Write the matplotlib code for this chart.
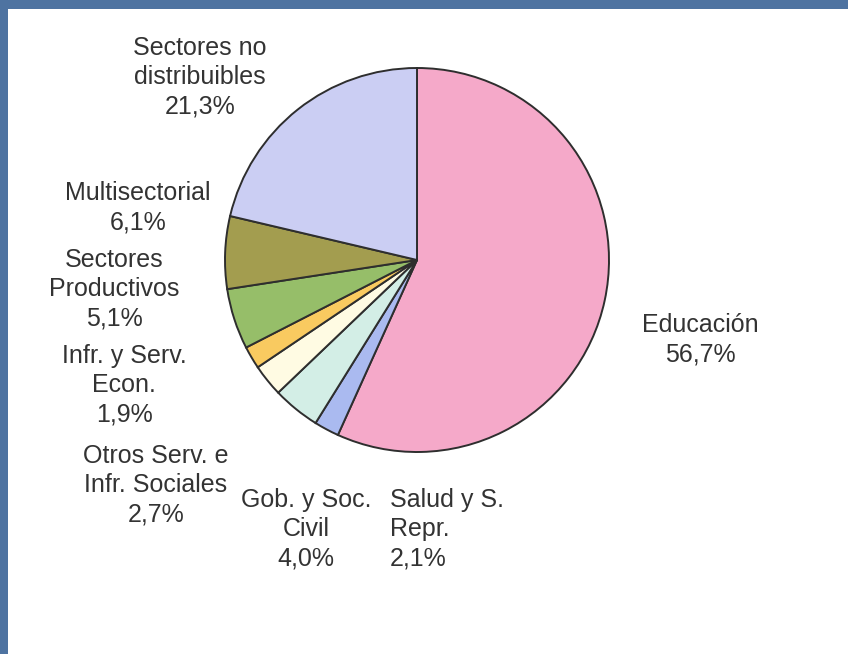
import matplotlib.pyplot as plt
from matplotlib.patches import Rectangle

plt.rcParams['font.family'] = ['Liberation Sans', 'DejaVu Sans']

# slices, clockwise from 12 o'clock
sectors = ['Educación', 'Salud y S.\nRepr.', 'Gob. y Soc.\nCivil',
           'Otros Serv. e\nInfr. Sociales', 'Infr. y Serv.\nEcon.',
           'Sectores\nProductivos', 'Multisectorial',
           'Sectores no\ndistribuibles']
shares = [56.7, 2.1, 4.0, 2.7, 1.9, 5.1, 6.1, 21.3]
colors = ['#F5A9C9', '#AABAF0', '#D3EEE6', '#FFFBE3', '#F9CA60',
          '#96BE69', '#A39D4F', '#CBCEF3']

# label anchor (px from top-left) and alignment
label_pos = [(700, 340, 'center'), (390, 529, 'left'), (306, 529, 'center'),
             (156, 485, 'center'), (124, 385, 'center'), (114, 289, 'center'),
             (138, 208, 'center'), (200, 77, 'center')]

W, H = 848, 654
fig = plt.figure(figsize=(W / 100, H / 100), dpi=100)
fig.patch.set_facecolor('#4E73A1')

ax = fig.add_axes([0, 0, 1, 1])
ax.add_patch(Rectangle((8, 0), W - 8, H - 9, facecolor='white', edgecolor='none', zorder=0))

cx, cy, r = 417, 260, 192
ax.pie(shares, colors=colors, startangle=90, counterclock=False,
       center=(cx, H - cy), radius=r,
       wedgeprops=dict(edgecolor='#2e2e2e', linewidth=1.4))

for name, val, (x, y, ha) in zip(sectors, shares, label_pos):
    txt = name + '\n' + f'{val:.1f}'.replace('.', ',') + '%'
    ax.text(x, H - y, txt, ha=ha, va='center', fontsize=18,
            color='#333333', linespacing=1.28, multialignment=ha)

ax.set_xlim(0, W)
ax.set_ylim(0, H)
ax.set_aspect('auto')
ax.axis('off')

fig.savefig('out.png', dpi=100, facecolor=fig.get_facecolor())
